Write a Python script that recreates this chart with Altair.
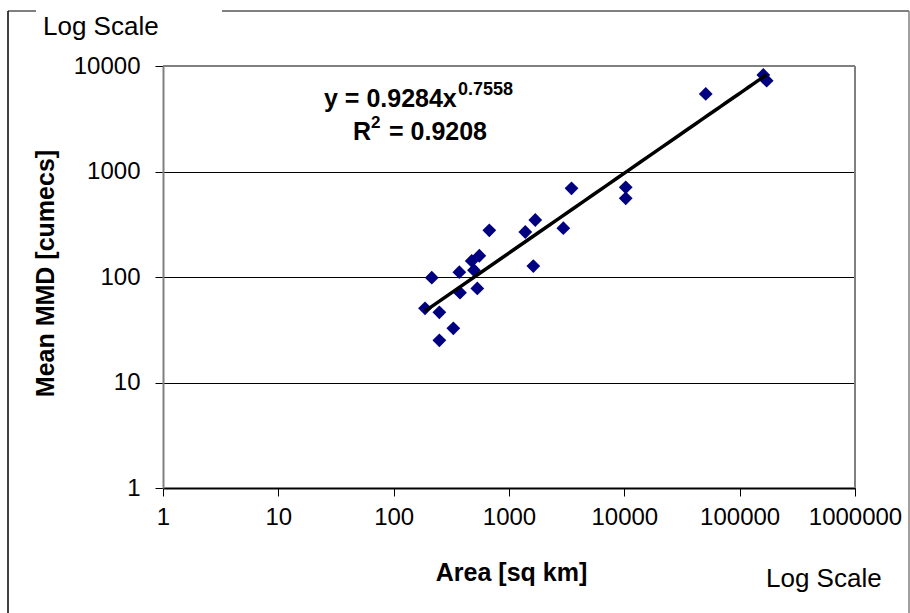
import altair as alt
import pandas as pd

# Data
area = [187, 214, 249, 249, 329, 371, 376, 475, 497, 553, 531, 675,
        1384, 1690, 1625, 2958, 3483, 10280, 10280, 50800, 160300, 171500]
mmd = [50.5, 98.5, 46.3, 25.1, 32.6, 111, 71, 142, 116, 159, 78, 277,
       267, 347, 127, 290, 693, 708, 557, 5430, 8220, 7260]
x_ticks = [1, 10, 100, 1000, 10000, 100000, 1000000]
y_ticks = [1, 10, 100, 1000, 10000]
x_title = "Area [sq km]"
y_title = "Mean MMD [cumecs]"
eq_text = "y = 0.9284x"
eq_exp = "0.7558"
r_text = "R"
r_exp = "2"
r_val = "= 0.9208"
scale_label = "Log Scale"

FONT = "Liberation Sans"
W, H = 692, 422

df = pd.DataFrame({"area": area, "mmd": mmd})
one = pd.DataFrame({"k": [0]})

x_axis = alt.Axis(values=x_ticks, format="d", grid=False, domainColor="black",
                  domainWidth=2, tickColor="black", tickSize=8, tickWidth=1,
                  labelFont=FONT, labelFontSize=24, labelColor="black",
                  labelPadding=9, labelFlush=False, labelOverlap=False,
                  title=x_title, titleFont=FONT, titleFontSize=25,
                  titleFontWeight="bold", titleColor="black", titleX=348,
                  titleY=92, titleAlign="center", titleBaseline="alphabetic")
y_axis = alt.Axis(values=y_ticks, format="d", grid=True, gridColor="black",
                  gridWidth=1, domainColor="#808080", domainWidth=2,
                  tickColor="black", tickSize=8, tickWidth=1,
                  labelFont=FONT, labelFontSize=24, labelColor="black",
                  labelPadding=15, labelFlush=False, labelOverlap=False,
                  title=y_title, titleFont=FONT, titleFontSize=25,
                  titleFontWeight="bold", titleColor="black", titleX=-118,
                  titleY=207, titleAngle=270, titleAlign="center",
                  titleBaseline="middle")

xs = alt.Scale(type="log", domain=[1, 1000000], nice=False)
ys = alt.Scale(type="log", domain=[1, 10000], nice=False)

x_enc = alt.X("area:Q", scale=xs, axis=x_axis, title=x_title)
y_enc = alt.Y("mmd:Q", scale=ys, axis=y_axis, title=y_title)

points = alt.Chart(df).mark_point(shape="diamond", filled=True, color="#000080",
                                  size=190, opacity=1).encode(x=x_enc, y=y_enc)

trend = alt.Chart(df).transform_regression(
    "area", "mmd", method="pow"
).mark_line(color="black", strokeWidth=3.5).encode(x=x_enc, y=y_enc)


def txt(s, x, y, size, bold=True, align="left"):
    return alt.Chart(one).mark_text(
        text=s, font=FONT, fontSize=size, fontWeight="bold" if bold else "normal",
        color="black", align=align, baseline="alphabetic"
    ).encode(x=alt.value(x), y=alt.value(y))


def rule(x, x2, y, y2, color, width):
    return alt.Chart(one).mark_rule(color=color, strokeWidth=width).encode(
        x=alt.value(x), x2=alt.value(x2), y=alt.value(y), y2=alt.value(y2))


texts = [
    txt(eq_text, 161, 41, 25),
    txt(eq_exp, 295, 29, 18),
    txt(r_text, 190, 74, 25),
    txt(r_exp, 208, 62, 17),
    txt(r_val, 226, 74, 25),
    txt(scale_label, -120, -31, 26, bold=False),
    txt(scale_label, 603, 521, 26, bold=False),
]

frame = [
    rule(0, W, 0, 0, "#808080", 2),        # plot top border
    rule(W, W, 0, H, "#808080", 2),        # plot right border
    rule(-155, -155, -55, 547, "black", 1.5),
    rule(-155, -127, -55, -55, "black", 1),
    rule(59, 746, -55, -55, "black", 1),
    rule(746, 746, -55, 547, "#808080", 1.5),
]

chart = alt.layer(points, trend, *frame, *texts).properties(
    width=W, height=H,
    autosize=alt.AutoSizeParams(type="none"),
    padding={"left": 163, "top": 66, "right": 55, "bottom": 125},
    background="white",
).configure_view(strokeWidth=0)

chart.save("out.html", embed_options={"renderer": "svg", "actions": False})
